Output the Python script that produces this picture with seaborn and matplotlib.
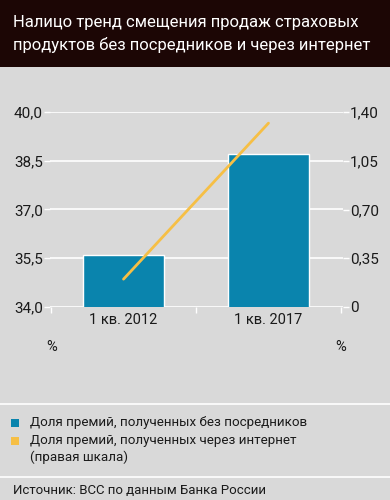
import matplotlib
matplotlib.use("Agg")
import matplotlib.pyplot as plt
import seaborn as sns
import numpy as np
import pandas as pd
from matplotlib.patches import Rectangle

categories = ["1 кв. 2012", "1 кв. 2017"]
direct_share = [35.6, 38.7]
internet_share = [0.2, 1.32]
left_ticks = [34.0, 35.5, 37.0, 38.5, 40.0]
left_labels = ["34,0", "35,5", "37,0", "38,5", "40,0"]
right_ticks = [0, 0.35, 0.70, 1.05, 1.40]
right_labels = ["0", "0,35", "0,70", "1,05", "1,40"]
title = "Налицо тренд смещения продаж страховых\nпродуктов без посредников и через интернет"
legend_labels = ["Доля премий, полученных без посредников",
                 "Доля премий, полученных через интернет\n(правая шкала)"]
source = "Источник: ВСС по данным Банка России"

sns.set_theme(style="white")
FONT = ["Roboto", "DejaVu Sans"]
plt.rcParams["font.family"] = FONT

BG = "#d9d9d9"
BLUE = "#0a84ad"
ORANGE = "#f6bf45"
TEXT = "#1a1a1a"

W, H = 390, 500
fig = plt.figure(figsize=(W / 100, H / 100), dpi=100, facecolor=BG)

def fx(px):
    return px / W

def fy(py):
    return 1 - py / H

# title bar
fig.patches.append(Rectangle((0, fy(67)), 1, 67 / H, transform=fig.transFigure,
                             facecolor="#1c0605", edgecolor="none", zorder=0))
fig.text(fx(13), fy(34), title, color="white", fontsize=12.0, va="center", ha="left",
         linespacing=1.6)

ax = fig.add_axes([fx(50), fy(307), fx(343) - fx(50), (307 - 112) / H])
ax.set_facecolor(BG)
df = pd.DataFrame({"cat": categories, "val": direct_share})
sns.barplot(data=df, x="cat", y="val", color=BLUE, saturation=1, width=0.56, ax=ax, zorder=3)
ax.set_ylim(34.0, 40.0)
ax.set_xlim(-0.507, 1.514)
ax.set_yticks(left_ticks)
ax.set_yticklabels(left_labels)
ax.set_xlabel("")
ax.set_ylabel("")
for s in ax.spines.values():
    s.set_visible(False)
for t in left_ticks:
    ax.axhline(t, color="white", lw=1.2, zorder=1)
ax.tick_params(axis="y", length=4, width=1, color="white", labelsize=11, labelcolor=TEXT, pad=1, left=True)
ax.set_xticks([0, 1])
ax.set_xticklabels(categories)
ax.tick_params(axis="x", length=0, labelsize=10.5, labelcolor=TEXT, pad=4)
ax.set_xticks([-0.5, 0.5, 1.5], minor=True)
ax.tick_params(axis="x", which="minor", length=4, width=1, color="white", bottom=True)

ax2 = ax.twinx()
sns.lineplot(x=np.arange(len(categories)), y=internet_share, color=ORANGE, lw=2, ax=ax2, zorder=4)
ax2.set_ylim(0, 1.40)
ax2.set_yticks(right_ticks)
ax2.set_yticklabels(right_labels)
ax2.set_xlim(-0.507, 1.514)
for s in ax2.spines.values():
    s.set_visible(False)
ax2.tick_params(axis="y", length=4, width=1, color="white", labelsize=11, labelcolor=TEXT, pad=1, right=True)

fig.text(fx(52), fy(347), "%", fontsize=10.5, color=TEXT, ha="center", va="center")
fig.text(fx(341), fy(347), "%", fontsize=10.5, color=TEXT, ha="center", va="center")

# separator lines
fig.lines.append(plt.Line2D([0, 1], [fy(404), fy(404)], transform=fig.transFigure, color="white", lw=1.2))
fig.lines.append(plt.Line2D([0, 1], [fy(477), fy(477)], transform=fig.transFigure, color="white", lw=1.2))

# legend
sq = 8
for i, (col, lab, yc) in enumerate([(BLUE, legend_labels[0], 423), (ORANGE, legend_labels[1], 441)]):
    fig.patches.append(Rectangle((fx(11), fy(yc + sq / 2)), sq / W, sq / H, transform=fig.transFigure,
                                 facecolor=col, edgecolor="none"))
    fig.text(fx(30), fy(yc - 7), lab, fontsize=9.6, color=TEXT, ha="left", va="top", linespacing=1.3)

fig.text(fx(13), fy(490), source, fontsize=9.5, color=TEXT, ha="left", va="center")

fig.savefig("out.png", dpi=100, facecolor=BG)
